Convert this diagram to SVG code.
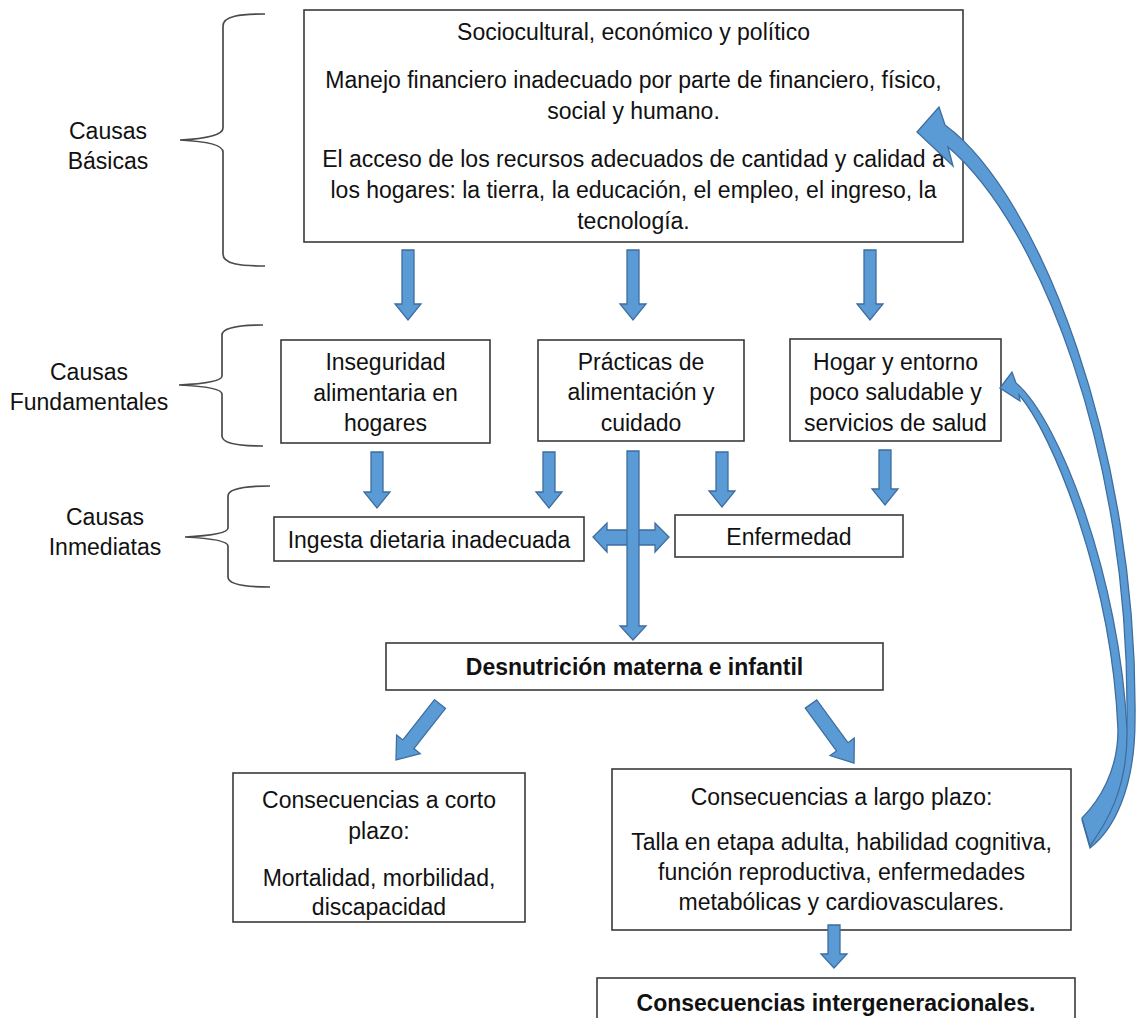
<svg xmlns="http://www.w3.org/2000/svg" width="1139" height="1018" viewBox="0 0 1139 1018">
<style>
.box{fill:#fff;stroke:#3a3a3a;stroke-width:1.6}
.t{font-family:"Liberation Sans",Arial,sans-serif;font-size:23px;fill:#111;text-anchor:middle}
.b{font-weight:bold}
.arr{fill:#5b9bd5;stroke:#3e6e9f;stroke-width:1.3;stroke-linejoin:miter}
.brace{fill:none;stroke:#4a4a4a;stroke-width:1.7}
</style>
<rect width="1139" height="1018" fill="#fff"/>
<g id="labels">
<path class="brace" d="M265 14 C240 14 223 16 223 26 L223 128 C223 136 200 139 180 140 C200 141 223 144 223 152 L223 254 C223 264 240 266 265 266"/>
<path class="brace" d="M263 325 C240 325 222 327 222 335 L222 376 C222 382 200 384 179 385 C200 386 222 388 222 394 L222 436 C222 444 240 446 263 446"/>
<path class="brace" d="M270 486 C247 486 228 488 228 496 L228 528 C228 534 205 536 185 537 C205 538 228 540 228 546 L228 577 C228 585 247 587 270 587"/>
<text class="t" x="108" y="139">Causas</text>
<text class="t" x="108" y="169">Básicas</text>
<text class="t" x="89" y="380">Causas</text>
<text class="t" x="89" y="410">Fundamentales</text>
<text class="t" x="105" y="525">Causas</text>
<text class="t" x="105" y="555">Inmediatas</text>
</g>
<g id="n-basicas">
<rect class="box" x="304" y="10" width="659" height="232"/>
<text class="t" x="633.5" y="40">Sociocultural, económico y político</text>
<text class="t" x="633.5" y="88">Manejo financiero inadecuado por parte de financiero, físico,</text>
<text class="t" x="633.5" y="119">social y humano.</text>
<text class="t" x="633.5" y="167">El acceso de los recursos adecuados de cantidad y calidad a</text>
<text class="t" x="633.5" y="198">los hogares: la tierra, la educación, el empleo, el ingreso, la</text>
<text class="t" x="633.5" y="229">tecnología.</text>
</g>
<g id="n-inseguridad">
<rect class="box" x="281" y="340" width="209" height="103"/>
<text class="t" x="385.5" y="370">Inseguridad</text>
<text class="t" x="385.5" y="401">alimentaria en</text>
<text class="t" x="385.5" y="431">hogares</text>
</g>
<g id="n-practicas">
<rect class="box" x="538" y="340" width="206" height="101"/>
<text class="t" x="641" y="370">Prácticas de</text>
<text class="t" x="641" y="400">alimentación y</text>
<text class="t" x="641" y="431">cuidado</text>
</g>
<g id="n-hogar">
<rect class="box" x="790" y="339" width="211" height="102"/>
<text class="t" x="895.5" y="370">Hogar y entorno</text>
<text class="t" x="895.5" y="400">poco saludable y</text>
<text class="t" x="895.5" y="431">servicios de salud</text>
</g>
<g id="n-ingesta">
<rect class="box" x="274" y="517" width="310" height="44"/>
<text class="t" x="429" y="548">Ingesta dietaria inadecuada</text>
</g>
<g id="n-enfermedad">
<rect class="box" x="675" y="515" width="228" height="42"/>
<text class="t" x="789" y="545">Enfermedad</text>
</g>
<g id="n-desnutricion">
<rect class="box" x="386" y="643" width="497" height="47"/>
<text class="t b" x="634.5" y="675">Desnutrición materna e infantil</text>
</g>
<g id="n-corto">
<rect class="box" x="233" y="773" width="292" height="149"/>
<text class="t" x="379" y="808">Consecuencias a corto</text>
<text class="t" x="379" y="839">plazo:</text>
<text class="t" x="379" y="886">Mortalidad, morbilidad,</text>
<text class="t" x="379" y="915">discapacidad</text>
</g>
<g id="n-largo">
<rect class="box" x="612" y="769" width="459" height="161"/>
<text class="t" x="841.5" y="805">Consecuencias a largo plazo:</text>
<text class="t" x="841.5" y="850">Talla en etapa adulta, habilidad cognitiva,</text>
<text class="t" x="841.5" y="880">función reproductiva, enfermedades</text>
<text class="t" x="841.5" y="910">metabólicas y cardiovasculares.</text>
</g>
<g id="n-intergeneracional">
<rect class="box" x="597" y="978" width="478" height="60"/>
<text class="t b" x="836" y="1011">Consecuencias intergeneracionales.</text>
</g>
<g id="connectors">
<polygon class="arr" points="402,250 414,250 414,304 421,304 408,320 395,304 402,304"/>
<polygon class="arr" points="627,250 639,250 639,304 646,304 633,320 620,304 627,304"/>
<polygon class="arr" points="864,250 876,250 876,304 883,304 870,320 857,304 864,304"/>
<polygon class="arr" points="371,452 383,452 383,492 390,492 377,508 364,492 371,492"/>
<polygon class="arr" points="543,452 555,452 555,492 562,492 549,508 536,492 543,492"/>
<polygon class="arr" points="716,452 728,452 728,491 735,491 722,507 709,491 716,491"/>
<polygon class="arr" points="879,450 891,450 891,489 898,489 885,505 872,489 879,489"/>
<polygon class="arr" points="593,537 607,523 607,530 655,530 655,523 669,537 655,552 655,545 607,545 607,552"/>
<polygon class="arr" points="627,451 639,451 639,626 646,626 633,640 620,626 627,626"/>
<polygon class="arr" points="434.5,699.7 445.5,708.3 413.9,748.6 420.2,753.6 396,760 396.6,735 402.9,739.9"/>
<polygon class="arr" points="805.3,708.1 816.7,699.9 847.9,742.7 854.3,738 854,763 830.1,755.6 836.5,750.9"/>
<polygon class="arr" points="828,925 840,925 840,954 847,954 834,968 821,954 828,954"/>
<path class="arr" d="M917 132 L939 107 L945 125 C1040 195 1138 450 1135 720 C1135 790 1113 830 1090 848 L1082 820 C1105 800 1127 760 1127 720 C1130 455 1040 225 948 147 L953 166 Z"/>
<path class="arr" d="M1000 388 L1012 372 L1016 383 C1060 420 1120 580 1127 730 C1128 790 1105 825 1090 846 L1082 818 C1100 800 1118 770 1118 730 C1112 580 1052 432 1019 395 L1020 401 Z"/>
</g>
</svg>
